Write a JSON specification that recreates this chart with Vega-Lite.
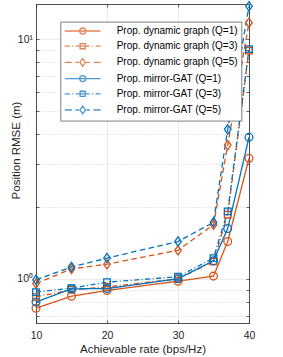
{
  "$schema": "https://vega.github.io/schema/vega-lite/v6.json",
  "width": 213,
  "height": 319,
  "autosize": "none",
  "padding": {"left": 36, "top": 4, "right": 34, "bottom": 34},
  "background": "white",
  "data": {"values": [
    {"x": 10, "y": 0.754, "s": "Prop. dynamic graph (Q=1)"},
    {"x": 15, "y": 0.846, "s": "Prop. dynamic graph (Q=1)"},
    {"x": 20, "y": 0.894, "s": "Prop. dynamic graph (Q=1)"},
    {"x": 30, "y": 0.977, "s": "Prop. dynamic graph (Q=1)"},
    {"x": 35, "y": 1.026, "s": "Prop. dynamic graph (Q=1)"},
    {"x": 37, "y": 1.43, "s": "Prop. dynamic graph (Q=1)"},
    {"x": 40, "y": 3.18, "s": "Prop. dynamic graph (Q=1)"},
    {"x": 10, "y": 0.84, "s": "Prop. dynamic graph (Q=3)"},
    {"x": 15, "y": 0.9, "s": "Prop. dynamic graph (Q=3)"},
    {"x": 20, "y": 0.925, "s": "Prop. dynamic graph (Q=3)"},
    {"x": 30, "y": 1.0, "s": "Prop. dynamic graph (Q=3)"},
    {"x": 35, "y": 1.18, "s": "Prop. dynamic graph (Q=3)"},
    {"x": 37, "y": 1.85, "s": "Prop. dynamic graph (Q=3)"},
    {"x": 40, "y": 8.95, "s": "Prop. dynamic graph (Q=3)"},
    {"x": 10, "y": 0.955, "s": "Prop. dynamic graph (Q=5)"},
    {"x": 15, "y": 1.1, "s": "Prop. dynamic graph (Q=5)"},
    {"x": 20, "y": 1.15, "s": "Prop. dynamic graph (Q=5)"},
    {"x": 30, "y": 1.315, "s": "Prop. dynamic graph (Q=5)"},
    {"x": 35, "y": 1.68, "s": "Prop. dynamic graph (Q=5)"},
    {"x": 37, "y": 3.61, "s": "Prop. dynamic graph (Q=5)"},
    {"x": 40, "y": 11.7, "s": "Prop. dynamic graph (Q=5)"},
    {"x": 10, "y": 0.8, "s": "Prop. mirror-GAT (Q=1)"},
    {"x": 15, "y": 0.908, "s": "Prop. mirror-GAT (Q=1)"},
    {"x": 20, "y": 0.91, "s": "Prop. mirror-GAT (Q=1)"},
    {"x": 30, "y": 1.0, "s": "Prop. mirror-GAT (Q=1)"},
    {"x": 35, "y": 1.19, "s": "Prop. mirror-GAT (Q=1)"},
    {"x": 37, "y": 1.62, "s": "Prop. mirror-GAT (Q=1)"},
    {"x": 40, "y": 3.89, "s": "Prop. mirror-GAT (Q=1)"},
    {"x": 10, "y": 0.88, "s": "Prop. mirror-GAT (Q=3)"},
    {"x": 15, "y": 0.914, "s": "Prop. mirror-GAT (Q=3)"},
    {"x": 20, "y": 0.968, "s": "Prop. mirror-GAT (Q=3)"},
    {"x": 30, "y": 1.02, "s": "Prop. mirror-GAT (Q=3)"},
    {"x": 35, "y": 1.22, "s": "Prop. mirror-GAT (Q=3)"},
    {"x": 37, "y": 1.91, "s": "Prop. mirror-GAT (Q=3)"},
    {"x": 40, "y": 9.08, "s": "Prop. mirror-GAT (Q=3)"},
    {"x": 10, "y": 0.99, "s": "Prop. mirror-GAT (Q=5)"},
    {"x": 15, "y": 1.12, "s": "Prop. mirror-GAT (Q=5)"},
    {"x": 20, "y": 1.22, "s": "Prop. mirror-GAT (Q=5)"},
    {"x": 30, "y": 1.43, "s": "Prop. mirror-GAT (Q=5)"},
    {"x": 35, "y": 1.72, "s": "Prop. mirror-GAT (Q=5)"},
    {"x": 37, "y": 4.2, "s": "Prop. mirror-GAT (Q=5)"},
    {"x": 40, "y": 13.7, "s": "Prop. mirror-GAT (Q=5)"}
  ]},
  "layer": [
    {
      "mark": {"type": "line", "strokeWidth": 1.3},
      "encoding": {
        "x": {"field": "x", "type": "quantitative",
          "scale": {"domain": [10, 40], "nice": false, "zero": false},
          "axis": {"orient": "bottom", "values": [10, 20, 30, 40], "title": "Achievable rate (bps/Hz)",
            "grid": true, "gridColor": "#dedede", "gridWidth": 0.7,
            "ticks": true, "tickSize": -3, "tickColor": "#262626", "tickWidth": 0.7,
            "domain": true, "domainColor": "#262626", "domainWidth": 0.8,
            "labelPadding": 10, "labelFontSize": 10.5, "labelColor": "#262626", "labelFlush": false,
            "titleFontSize": 11.5, "titleFontWeight": "normal", "titleColor": "#262626", "titlePadding": 3}},
        "y": {"field": "y", "type": "quantitative",
          "scale": {"type": "log", "domain": [0.654, 14], "nice": false},
          "axis": {"orient": "left", "values": [0.7, 0.8, 0.9, 1, 2, 3, 4, 5, 6, 7, 8, 9, 10],
            "labelExpr": "datum.value == 1 ? '10⁰' : (datum.value == 10 ? '10¹' : '')",
            "title": "Position RMSE (m)",
            "grid": true,
            "gridColor": {"condition": {"test": "datum.value == 1 || datum.value == 10", "value": "#dedede"}, "value": "#c4c4c4"},
            "gridDash": {"condition": {"test": "datum.value == 1 || datum.value == 10", "value": [1, 0]}, "value": [1, 2]},
            "gridWidth": 0.7,
            "ticks": true, "tickSize": -3, "tickColor": "#262626", "tickWidth": 0.7,
            "domain": true, "domainColor": "#262626", "domainWidth": 0.8,
            "labelPadding": 6.5, "labelFontSize": 10.5, "labelColor": "#262626", "labelFlush": false,
            "titleFontSize": 11.5, "titleFontWeight": "normal", "titleColor": "#262626",
            "titleX": -15, "titleY": 146, "titleAnchor": "middle"}},
        "color": {"field": "s", "type": "nominal",
          "scale": {"domain": ["Prop. dynamic graph (Q=1)", "Prop. dynamic graph (Q=3)", "Prop. dynamic graph (Q=5)", "Prop. mirror-GAT (Q=1)", "Prop. mirror-GAT (Q=3)", "Prop. mirror-GAT (Q=5)"],
            "range": ["#D95319", "#D95319", "#D95319", "#0072BD", "#0072BD", "#0072BD"]},
          "legend": null},
        "strokeDash": {"field": "s", "type": "nominal",
          "scale": {"domain": ["Prop. dynamic graph (Q=1)", "Prop. dynamic graph (Q=3)", "Prop. dynamic graph (Q=5)", "Prop. mirror-GAT (Q=1)", "Prop. mirror-GAT (Q=3)", "Prop. mirror-GAT (Q=5)"],
            "range": [[1, 0], [5, 2.5, 1, 2.5], [5.5, 3.5], [1, 0], [5, 2.5, 1, 2.5], [5.5, 3.5]]},
          "legend": null}
      }
    },
    {
      "mark": {"type": "point", "filled": false, "size": 60, "strokeWidth": 1.3, "opacity": 1},
      "encoding": {
        "x": {"field": "x", "type": "quantitative",
          "axis": {"orient": "top", "values": [10, 20, 30, 40], "labels": false, "title": null, "grid": false,
            "ticks": true, "tickSize": -3, "tickColor": "#262626", "tickWidth": 0.7,
            "domain": true, "domainColor": "#262626", "domainWidth": 0.8}},
        "y": {"field": "y", "type": "quantitative",
          "axis": {"orient": "right", "values": [0.7, 0.8, 0.9, 1, 2, 3, 4, 5, 6, 7, 8, 9, 10], "labels": false, "title": null, "grid": false,
            "ticks": true, "tickSize": -3, "tickColor": "#262626", "tickWidth": 0.7,
            "domain": true, "domainColor": "#262626", "domainWidth": 0.8}},
        "color": {"field": "s", "type": "nominal",
          "scale": {"domain": ["Prop. dynamic graph (Q=1)", "Prop. dynamic graph (Q=3)", "Prop. dynamic graph (Q=5)", "Prop. mirror-GAT (Q=1)", "Prop. mirror-GAT (Q=3)", "Prop. mirror-GAT (Q=5)"],
            "range": ["#D95319", "#D95319", "#D95319", "#0072BD", "#0072BD", "#0072BD"]},
          "legend": null},
        "shape": {"field": "s", "type": "nominal",
          "scale": {"domain": ["Prop. dynamic graph (Q=1)", "Prop. dynamic graph (Q=3)", "Prop. dynamic graph (Q=5)", "Prop. mirror-GAT (Q=1)", "Prop. mirror-GAT (Q=3)", "Prop. mirror-GAT (Q=5)"],
            "range": ["circle", "M-0.85,-0.85H0.85V0.85H-0.85Z", "M0,-1.2L0.85,0L0,1.2L-0.85,0Z", "circle", "M-0.85,-0.85H0.85V0.85H-0.85Z", "M0,-1.2L0.85,0L0,1.2L-0.85,0Z"]},
          "legend": null}
      }
    },
    {
      "transform": [{"filter": "false"}],
      "mark": {"type": "point", "filled": false, "size": 36, "strokeWidth": 1.3},
      "encoding": {
        "x": {"field": "x", "type": "quantitative", "axis": null},
        "y": {"field": "y", "type": "quantitative", "axis": null},
        "color": {"field": "s", "type": "nominal",
          "scale": {"domain": ["Prop. dynamic graph (Q=1)", "Prop. dynamic graph (Q=3)", "Prop. dynamic graph (Q=5)", "Prop. mirror-GAT (Q=1)", "Prop. mirror-GAT (Q=3)", "Prop. mirror-GAT (Q=5)"],
            "range": ["#D95319", "#D95319", "#D95319", "#0072BD", "#0072BD", "#0072BD"]},
          "legend": {"orient": "none", "legendX": 24.7, "legendY": 18, "title": null}},
        "shape": {"field": "s", "type": "nominal",
          "scale": {"domain": ["Prop. dynamic graph (Q=1)", "Prop. dynamic graph (Q=3)", "Prop. dynamic graph (Q=5)", "Prop. mirror-GAT (Q=1)", "Prop. mirror-GAT (Q=3)", "Prop. mirror-GAT (Q=5)"],
            "range": [
              "M-6,0H6M-1,0A1,1 0 1,0 1,0A1,1 0 1,0 -1,0",
              "M-6,0H-4.3M-3.5,0H-3.1M-2.3,0H2.3M3.1,0H3.5M4.3,0H6M-0.85,-0.85H0.85V0.85H-0.85Z",
              "M-6,0H-3.6M-2.4,0H-1.2M1.2,0H2.4M3.6,0H6M0,-1.3L0.9,0L0,1.3L-0.9,0Z",
              "M-6,0H6M-1,0A1,1 0 1,0 1,0A1,1 0 1,0 -1,0",
              "M-6,0H-4.3M-3.5,0H-3.1M-2.3,0H2.3M3.1,0H3.5M4.3,0H6M-0.85,-0.85H0.85V0.85H-0.85Z",
              "M-6,0H-3.6M-2.4,0H-1.2M1.2,0H2.4M3.6,0H6M0,-1.3L0.9,0L0,1.3L-0.9,0Z"]},
          "legend": {"orient": "none", "legendX": 24.7, "legendY": 18, "title": null}}
      }
    }
  ],
  "resolve": {
    "scale": {"color": "independent", "shape": "independent", "strokeDash": "independent"},
    "axis": {"x": "independent", "y": "independent"}
  },
  "config": {
    "font": "Liberation Sans",
    "view": {"stroke": null},
    "legend": {
      "labelFont": "Liberation Sans", "labelFontSize": 10, "labelColor": "#000000", "labelLimit": 0,
      "padding": 4, "rowPadding": 3.2, "fillColor": "white", "strokeColor": "#262626", "strokeWidth": 0.6,
      "symbolOffset": 13, "labelOffset": 29, "symbolStrokeWidth": 1.3, "symbolSize": 36, "cornerRadius": 0
    }
  }
}
